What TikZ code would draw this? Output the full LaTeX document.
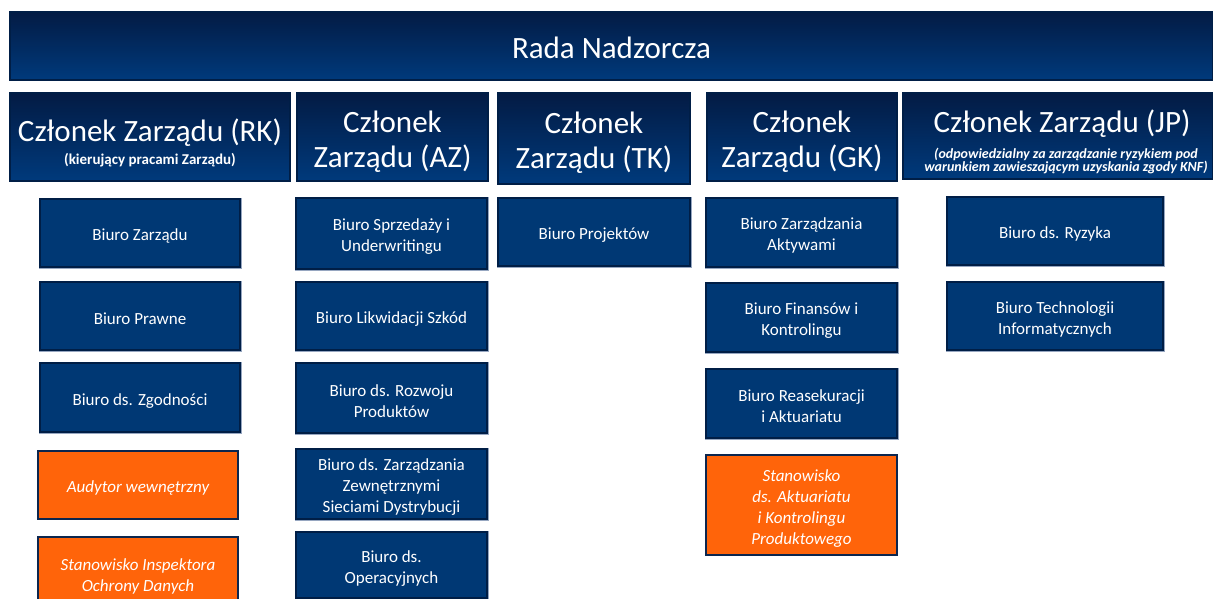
\documentclass[tikz,border=0pt]{standalone}
\usepackage{fontspec}
\setmainfont{Carlito}

\definecolor{navytop}{RGB}{3,27,68}
\definecolor{navybot}{RGB}{0,58,124}
\definecolor{unitfill}{RGB}{0,56,116}
\definecolor{unitedge}{RGB}{0,30,70}
\definecolor{rimgrey}{RGB}{150,166,192}
\definecolor{postfill}{RGB}{255,100,10}
\definecolor{postedge}{RGB}{12,38,78}

\newcommand\headfont{\fontsize{31}{35}\selectfont}
\newcommand\unitfont{\fontsize{17}{21}\selectfont}
\newcommand\notefont{\fontsize{15}{16}\selectfont\bfseries}
\newcommand\remarkfont{\fontsize{14}{13}\selectfont\bfseries\itshape}
% invisible strut that lowers a node's text block
\newcommand\lift[1]{\rule{0pt}{#1}}

\tikzset{
  dims/.style 2 args={minimum width=#1pt, minimum height=#2pt},
  board/.style={rectangle, inner sep=0pt, top color=navytop, bottom color=navybot,
    draw=unitedge, line width=1.2pt, preaction={draw=rimgrey, line width=2.4pt},
    text=white, align=center, font=\headfont},
  unit/.style={rectangle, inner sep=0pt, fill=unitfill, draw=unitedge, line width=2pt,
    preaction={draw=rimgrey, line width=3pt},
    text=white, align=center, font=\unitfont},
  post/.style={rectangle, inner sep=0pt, fill=postfill, draw=postedge, line width=2.6pt,
    text=white, align=center, font=\unitfont\itshape},
}

\begin{document}
\begin{tikzpicture}[x=1pt,y=-1pt]
\useasboundingbox (0,0) rectangle (1213,599);
\fill[white] (0,0) rectangle (1213,599);
\clip (0,0) rectangle (1213,599);

% supervisory board
\node[board, dims={1203}{68}] (rada) at (611.5,46) {\lift{25pt}Rada Nadzorcza};

% management board members
\node[board, dims={280}{88}, font=\notefont] (rk) at (150,137)
  {\lift{35pt}{\headfont\mdseries Członek Zarządu (RK)}\\[6pt](kierujący pracami Zarządu)};
\node[board, dims={191}{88}] (az) at (392.5,137) {\lift{30pt}Członek\\Zarządu (AZ)};
\node[board, dims={192}{91}] (tk) at (594,138.5) {\lift{30pt}Członek\\Zarządu (TK)};
\node[board, dims={190}{88}] (gk) at (802,137) {\lift{30pt}Członek\\Zarządu (GK)};
\node[board, dims={310}{86}, font=\remarkfont] (jp) at (1058,136)
  {\lift{34pt}\hspace*{8pt}{\headfont\upshape\mdseries Członek Zarządu (JP)}\\[10pt]%
   \hspace*{16pt}(odpowiedzialny za zarządzanie ryzykiem pod\\%
   \hspace*{16pt}warunkiem zawieszającym uzyskania zgody KNF)};

% units under RK
\node[unit, dims={200}{68}] (rk1) at (140,233) {\lift{18pt}Biuro Zarządu};
\node[unit, dims={200}{68}] (rk2) at (140,316) {\lift{18pt}Biuro Prawne};
\node[unit, dims={200}{69}] (rk3) at (140,397.5) {\lift{18pt}Biuro ds. Zgodności};
\node[post, dims={200}{68}] (rk4) at (138,485) {\lift{18pt}Audytor wewnętrzny};
\node[post, dims={200}{73}] (rk5) at (138,573.5) {\lift{18pt}Stanowisko Inspektora\\Ochrony Danych};

% units under AZ
\node[unit, dims={191}{71}] (az1) at (391.5,233.5) {\lift{18pt}Biuro Sprzedaży i\\Underwritingu};
\node[unit, dims={191}{68}] (az2) at (391.5,316) {\lift{18pt}Biuro Likwidacji Szkód};
\node[unit, dims={191}{70}] (az3) at (391.5,398) {\lift{18pt}Biuro ds. Rozwoju\\Produktów};
\node[unit, dims={191}{70}] (az4) at (391.5,484) {\lift{18pt}Biuro ds. Zarządzania\\Zewnętrznymi\\Sieciami Dystrybucji};
\node[unit, dims={191}{66}] (az5) at (391.5,565) {\lift{18pt}Biuro ds.\\Operacyjnych};

% units under TK
\node[unit, dims={192}{68}] (tk1) at (594,232) {\lift{18pt}Biuro Projektów};

% units under GK
\node[unit, dims={191}{69}] (gk1) at (801.5,232.5) {\lift{18pt}Biuro Zarządzania\\Aktywami};
\node[unit, dims={191}{69}] (gk2) at (801.5,317.5) {\lift{18pt}Biuro Finansów i\\Kontrolingu};
\node[unit, dims={191}{69}] (gk3) at (801.5,403.5) {\lift{18pt}Biuro Reasekuracji\\i Aktuariatu};
\node[post, dims={191}{100}] (gk4) at (801.5,505) {\lift{18pt}Stanowisko\\ds. Aktuariatu\\i Kontrolingu\\Produktowego};

% units under JP
\node[unit, dims={216}{68}] (jp1) at (1055,231) {\lift{18pt}Biuro ds. Ryzyka};
\node[unit, dims={216}{68}] (jp2) at (1055,316) {\lift{18pt}Biuro Technologii\\Informatycznych};
\end{tikzpicture}
\end{document}
